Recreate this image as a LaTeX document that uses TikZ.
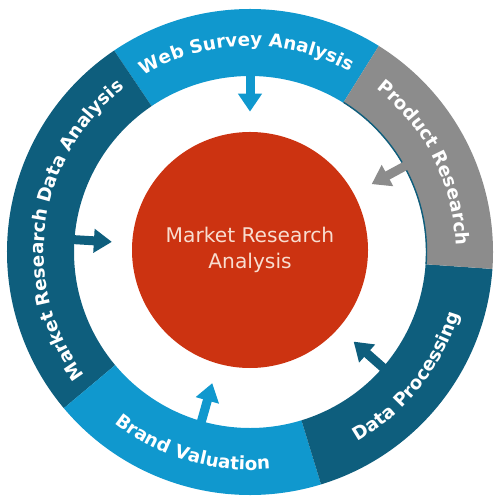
\documentclass[tikz,border=0pt]{standalone}
\usepackage{fontspec}
\setsansfont{DejaVu Sans}
\usetikzlibrary{arrows.meta,decorations.text}
\definecolor{webblue}{HTML}{1098CE}
\definecolor{deepteal}{HTML}{0E5E7D}
\definecolor{prodgray}{HTML}{8C8C8C}
\definecolor{corered}{HTML}{CC3311}
\definecolor{corefont}{HTML}{F8DDD0}
\tikzset{
  ringtext/.style={decorate,decoration={text along path,text align=center,
      text={|\sffamily\bfseries\fontsize{10.4}{12}\selectfont\color{white}|#1}}},
  hint/.style={#1,line width=0.18cm,shorten >=0.4cm,
      -{Triangle[width=0.46cm,length=0.36cm]}}
}
\begin{document}
\begin{tikzpicture}
  \useasboundingbox (-5,-4.96) rectangle (5,5.04);
  % ring segments
  \fill[webblue] (58:3.52) arc[start angle=58,end angle=124,radius=3.52]
    -- (124:4.86) arc[start angle=124,end angle=58,radius=4.86] -- cycle;
  \fill[deepteal] (124:3.52) arc[start angle=124,end angle=220,radius=3.52]
    -- (220:4.86) arc[start angle=220,end angle=124,radius=4.86] -- cycle;
  \fill[webblue] (220:3.52) arc[start angle=220,end angle=287,radius=3.52]
    -- (287:4.86) arc[start angle=287,end angle=220,radius=4.86] -- cycle;
  \fill[deepteal] (287:3.52) arc[start angle=287,end angle=356,radius=3.52]
    -- (356:4.86) arc[start angle=356,end angle=287,radius=4.86] -- cycle;
  \fill[prodgray] (-4:3.52) arc[start angle=-4,end angle=58,radius=3.52]
    -- (58:4.86) arc[start angle=58,end angle=-4,radius=4.86] -- cycle;
  \draw[deepteal,line width=0.8pt] (-4:3.53) arc[start angle=-4,end angle=58,radius=3.53];
  % labels on the ring
  \path[ringtext={Web Survey Analysis}] (124:4.12) arc[start angle=124,end angle=58,radius=4.12];
  \path[ringtext={Product Research}] (58:4.12) arc[start angle=58,end angle=-4,radius=4.12];
  \path[ringtext={Data Processing}] (-73:4.36) arc[start angle=-73,end angle=-4,radius=4.36];
  \path[ringtext={Brand Valuation}] (220:4.36) arc[start angle=220,end angle=287,radius=4.36];
  \path[ringtext={Market Research Data Analysis}] (220:4.12) arc[start angle=220,end angle=124,radius=4.12];
  % centre
  \node[circle,fill=corered,minimum size=4.72cm,inner sep=0pt,align=center,
    text=corefont,font=\sffamily\fontsize{11.5}{14.7}\selectfont] (core) at (0,0.04)
    {Market Research\\Analysis};
  % arrows into the centre
  \coordinate (webfoot) at (90:3.6);
  \coordinate (prodfoot) at (29:3.6);
  \coordinate (datafoot) at (-41:3.6);
  \coordinate (brandfoot) at (-106:3.6);
  \coordinate (mrdafoot) at (176:3.6);
  \draw[hint=webblue] (webfoot) -- (core);
  \draw[hint=prodgray] (prodfoot) -- (core);
  \draw[hint=deepteal] (datafoot) -- (core);
  \draw[hint=webblue] (brandfoot) -- (core);
  \draw[hint=deepteal] (mrdafoot) -- (core);
\end{tikzpicture}
\end{document}
